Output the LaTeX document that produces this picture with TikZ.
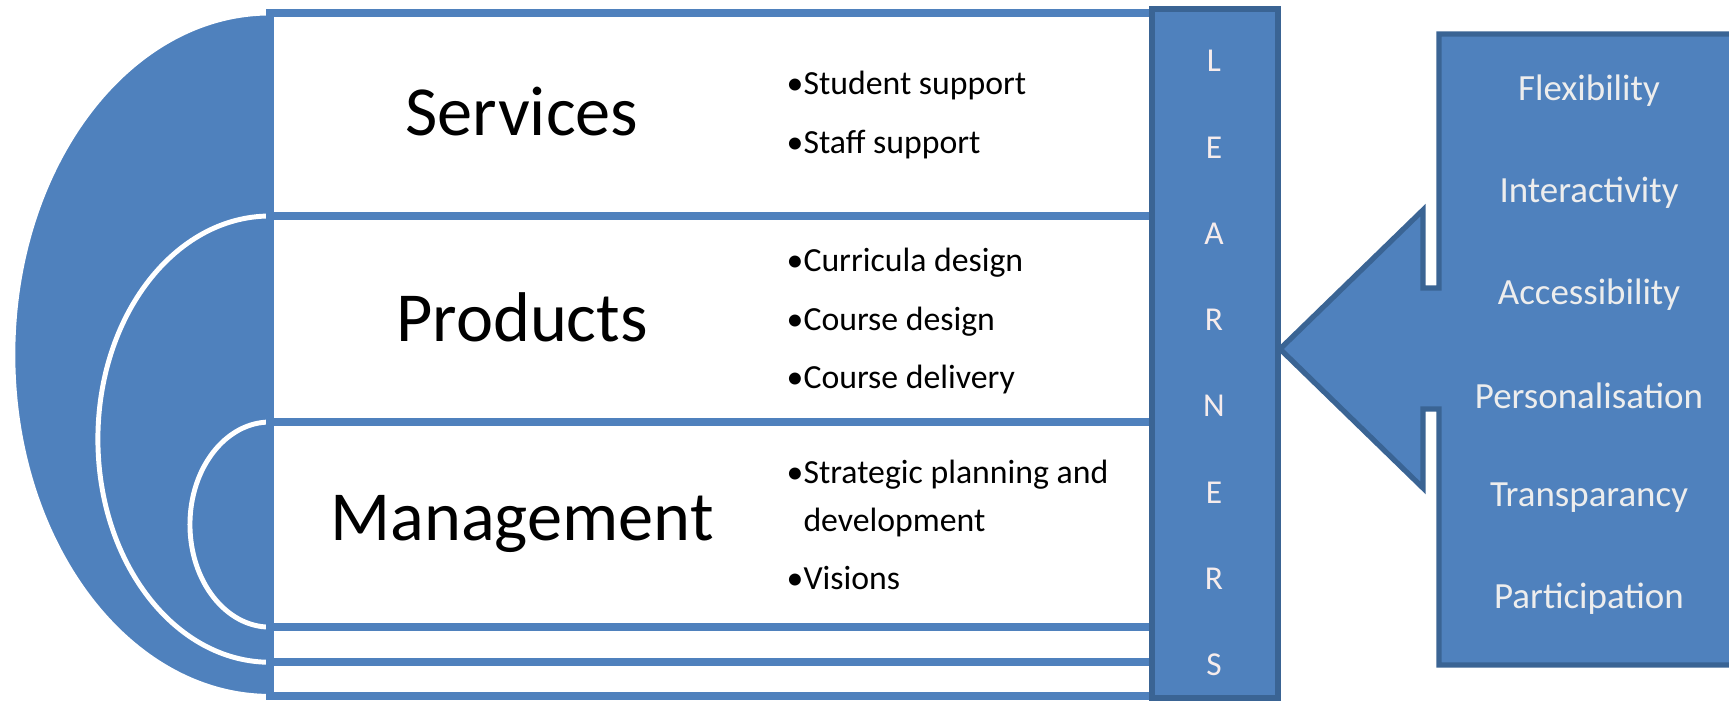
\documentclass[tikz,border=0pt]{standalone}
\usepackage{fontspec}
\setmainfont{Carlito}
\definecolor{officeblue}{HTML}{4F81BD}
\definecolor{darkblue}{HTML}{3A6494}
\definecolor{paleletter}{HTML}{F6ECEC}
\tikzset{
  halfdisc/.style={fill=officeblue, draw=white, line width=1.4pt},
  band/.style={fill=white, draw=officeblue, line width=2.2pt},
  heading/.style={font=\fontsize{20}{24}\selectfont},
  bullets/.style={font=\fontsize{9.6}{13.7}\selectfont, align=left, anchor=west, inner sep=0pt},
  learnerbar/.style={fill=officeblue, draw=darkblue, line width=1.5pt},
  arrowbox/.style={fill=officeblue, draw=darkblue, line width=1.5pt, line join=miter},
  letter/.style={text=paleletter, font=\fontsize{9.5}{11}\selectfont},
  quality/.style={text=white!93!black, font=\fontsize{10.5}{12}\selectfont}
}

\begin{document}
\begin{tikzpicture}[x=0.01cm, y=-0.01cm]
  \useasboundingbox (0,0) rectangle (1729,702);

  % nested targets, outer to inner
  \draw[halfdisc] (270,13) arc[start angle=90, end angle=270, x radius=2.57cm, y radius=3.415cm] -- cycle;
  \draw[band] (270,13) rectangle (1160,696);
  \draw[halfdisc] (270,216) arc[start angle=90, end angle=270, x radius=1.72cm, y radius=2.23cm] -- cycle;
  \draw[band] (270,216) rectangle (1160,662);
  \draw[halfdisc] (270,422) arc[start angle=90, end angle=270, x radius=0.8cm, y radius=1.025cm] -- cycle;
  \draw[band] (270,422) rectangle (1160,627);

  \node[heading] (services) at (522,112) {Services};
  \node[heading] (products) at (522,317) {Products};
  \node[heading] (management) at (522,524) {Management};

  \node[bullets] (servicelist) at (786,115) {•Student support\\[2.9pt]•Staff support};
  \node[bullets] (productlist) at (786,321) {•Curricula design\\[2.9pt]•Course design\\[2.9pt]•Course delivery};
  \node[bullets] (managementlist) at (786,525) {•Strategic planning and\\\hphantom{•}development\\[2.9pt]•Visions};

  % learners bar
  \draw[learnerbar] (1152,9) rectangle (1278,698);
  \foreach \ch [count=\i from 0] in {L,E,A,R,N,E,R,S}
    \node[letter] (letter\i) at (1214,{61+86.3*\i}) {\ch};

  % box with arrow pointing at the bar
  \draw[arrowbox] (1740,34) -- (1439,34) -- (1439,288) -- (1423,288) -- (1423,210)
    -- (1280,349) -- (1423,488) -- (1423,409) -- (1439,409) -- (1439,665) -- (1740,665) -- cycle;
  \foreach \q [count=\i from 0] in {Flexibility,Interactivity,Accessibility,Personalisation,Transparancy,Participation}
    \node[quality] (quality\i) at (1589,{91+101.6*\i}) {\q};
\end{tikzpicture}
\end{document}
